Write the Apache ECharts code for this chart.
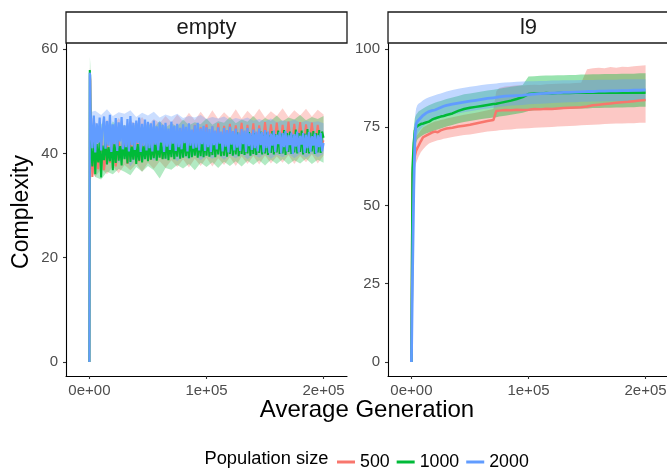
<!DOCTYPE html>
<html><head><meta charset="utf-8">
<script src="https://cdn.jsdelivr.net/npm/echarts@6/dist/echarts.min.js"></script>
<style>html,body{margin:0;padding:0;background:#fff}#c{width:667px;height:468px}</style>
</head><body><div id="c"></div>
<script>
// ---------- data ----------
const panels = ['empty', 'l9'];
const popSizes = ['500', '1000', '2000'];
const xTickValues = [0, 100000, 200000];
const xTickLabels = ['0e+00', '1e+05', '2e+05'];
const yTicksEmpty = [0, 20, 40, 60];
const yTicksL9 = [0, 25, 50, 75, 100];

// panel "empty": red line (coarser sampling)
const xEmptyRed = [0,400,800,1200,1600,2000,2500,5000,7500,10000,12500,15000,17500,20000,22500,25000,27500,30000,32500,35000,37500,40000,42500,45000,47500,50000,52500,55000,57500,60000,62500,65000,67500,70000,72500,75000,77500,80000,82500,85000,87500,90000,92500,95000,97500,100000,102500,105000,107500,110000,112500,115000,117500,120000,122500,125000,127500,130000,132500,135000,137500,140000,142500,145000,147500,150000,152500,155000,157500,160000,162500,165000,167500,170000,172500,175000,177500,180000,182500,185000,187500,190000,192500,195000,197500,200000];
const emptyRed = [0,55,54,44,37,40,
 35.5,42,37,43.5,36.8,41.8,38.2,43,37.5,42.4,38.8,43.6,38,42.8,39,44,38.5,43.2,39.2,44.4,38.8,43.5,39.5,44.8,39,44.2,39.6,
 45,39.8,44.5,40.2,45.3,39.9,44.8,40.4,45.5,40.1,45,40.6,45.6,40.3,45.2,40.8,45.8,40.5,45.3,40.9,45.7,40.6,45.4,41,45.9,40.7,45.5,
 41,45.8,40.8,45.4,41.2,46,40.9,45.6,41.3,45.9,41,45.5,41.4,46.1,41.1,45.7,41.5,46,41.2,45.6,41.4,45.9,41.1,45.5,41.3,42.5];

// panel "empty": green and blue lines (finer sampling)
const xEmptyFine = [0,300,600,900,
 1250,2500,3750,5000,6250,7500,8750,10000,11250,12500,13750,15000,16250,17500,18750,20000,21250,22500,23750,25000,26250,27500,28750,30000,31250,32500,33750,35000,36250,37500,38750,40000,41250,42500,43750,45000,46250,47500,48750,50000,
 51250,52500,53750,55000,56250,57500,58750,60000,61250,62500,63750,65000,66250,67500,68750,70000,71250,72500,73750,75000,76250,77500,78750,80000,81250,82500,83750,85000,86250,87500,88750,90000,91250,92500,93750,95000,96250,97500,98750,100000,
 101250,102500,103750,105000,106250,107500,108750,110000,111250,112500,113750,115000,116250,117500,118750,120000,121250,122500,123750,125000,126250,127500,128750,130000,131250,132500,133750,135000,136250,137500,138750,140000,141250,142500,143750,145000,146250,147500,148750,150000,
 151250,152500,153750,155000,156250,157500,158750,160000,161250,162500,163750,165000,166250,167500,168750,170000,171250,172500,173750,175000,176250,177500,178750,180000,181250,182500,183750,185000,186250,187500,188750,190000,191250,192500,193750,195000,196250,197500,198750,200000];
const emptyGreen = [0,56,55,47,
 41,37.5,42.6,36,41.8,38.3,42.2,35.4,41.5,38.7,42.8,37.9,41.2,38.5,42.4,36.8,41.9,38.2,43,38.6,41.4,37.7,42.5,38.9,41.7,38.1,42.9,38.4,41.3,38.8,42.3,38,41.8,38.6,42.7,38.3,41.6,38.9,42.1,38.5,
 42.4,38.8,41.7,39.1,42.9,38.6,42,39.2,42.6,38.9,41.8,39,43.1,38.7,42.3,39.3,42.8,38.9,42.1,39.4,43.2,39,42.5,39.2,42.9,39.5,42.2,39.1,43.3,39.3,42.6,39.6,43,39.2,42.4,39.5,43.4,39.3,42.8,39.6,
 43.2,39.4,42.7,39.7,43.5,39.3,42.9,39.8,43.6,39.5,43,39.6,43.8,39.4,43.2,39.9,43.7,39.6,43.1,39.8,44,39.5,43.4,39.9,43.8,39.7,43.3,40,44.1,39.6,43.5,39.9,43.9,39.7,43.4,40.1,44.2,39.8,43.6,40,
 44,39.7,43.5,40.1,44.3,39.8,43.7,40.2,44.4,39.9,43.8,40,44.5,39.7,43.9,40.3,44.2,39.9,43.6,40.2,44.6,40,43.9,40.3,44.4,39.8,43.8,40.1,44.7,40,44,40.4,44.3,39.9,43.9,40.2,44.5,40.1,44.2,43];
const emptyBlue = [0,55.5,55,48,
 46.5,41,47.3,40.2,45.8,42,46.9,40.6,44.8,47.1,40.9,46.2,41.5,47.4,40.3,45.6,41.8,46.8,40.5,46,42.3,47,40.8,45.4,41.2,46.6,40.4,47.2,41.6,45.9,40.7,46.3,42,46.9,40.3,45.7,41.4,46.5,40.6,46.1,
 41,45.8,40.4,46.3,41.7,45.2,40.6,46,42.1,45.5,40.3,45.9,41.3,44.8,40.7,46.1,41.9,45.3,40.5,45.7,41.2,44.9,40.8,45.6,42,45.1,40.4,45.8,41.5,44.6,40.9,45.4,41.1,45.9,40.6,44.8,41.8,45.3,40.5,45,
 41.2,44.7,40.3,45.2,41.6,44.4,40.8,45,41.9,44.2,40.4,44.9,41.3,44.5,40.2,45.1,41.7,44.3,40.6,44.8,41.1,44,40.5,44.7,41.8,44.4,40.3,44.9,41.4,43.9,40.7,44.6,41,44.2,40.4,44.8,41.6,44.1,40.2,44.5,
 41,44.2,40.1,43.8,41.5,44.4,40.3,43.6,41.8,44.1,40,43.9,41.2,44.3,40.4,43.5,41.6,44,39.9,43.7,41.3,44.2,40.2,43.4,41.7,43.9,40.1,43.6,41,44.1,40.3,43.3,41.5,43.8,40,43.5,41.2,43.9,40.4,42];

// panel "empty": ribbons
const xEmptyRib = [0,400,800,1200,1600,2000,5000,10000,15000,20000,25000,30000,35000,40000,45000,50000,55000,60000,65000,70000,75000,80000,85000,90000,95000,100000,105000,110000,115000,120000,125000,130000,135000,140000,145000,150000,155000,160000,165000,170000,175000,180000,185000,190000,195000,200000];
const emptyRedLo = [0,54,52,40,35,36.5, 35.5,37,36,37.5,36.2,37.8,36.8,38,36.5,38.2,37,38.5,37.2,38.7,37.4,38.9,37.3,39,37.6,39.2,37.5,39.1,37.8,39.3,37.6,39.4,38,39.5,37.9,39.6,38.1,39.4,38.2,39.7,38,39.5,38.3,39.8,38.1,39.6];
const emptyRedHi = [0,56.5,56,52,46,47, 46,44.8,46.5,45.2,46.8,45,46.3,45.6,47,45.4,46.6,45.8,47.2,46,47.5,46.2,47.8,46.4,48,46.5,48.3,46.6,47.9,46.8,48.5,46.7,48.2,47,48.6,46.9,48.1,47.2,48.7,47,48.3,47.3,48.6,47.1,48.4,47.5];
const emptyGreenLo = [0,53,51,40,35,37, 35.5,35,36.5,36,37,36.5,35.8,37.4,36.5,37.6,36.8,35.2,37.2,36.9,37.8,37.1,38,36.8,38.2,37.4,38.3,37.2,38.4,37.6,38.5,37.5,38.6,37.8,38.7,37.7,38.8,38,38.9,37.9,38.7,38.1,39,38,38.8,38.2];
const emptyGreenHi = [0,58.5,57,50,43,45, 44.5,45.8,44,46.2,44.8,45.5,44.2,46,44.6,45.7,44.9,46.3,45,45.8,45.2,46.5,45.4,46,45.6,46.7,45.5,46.2,45.9,47,45.8,46.5,46.1,47.2,46,46.8,46.3,47.3,46.2,46.9,46.5,47.4,46.4,47,46.6,47.2];
const emptyBlueLo = [0,54,53,42,36,38, 37.5,38.8,37.8,39,38.2,39.3,37.5,39.2,38.4,39.5,38.6,39.4,38.8,39.6,38.5,39.5,38.9,39.7,38.7,39.6,39,39.8,38.8,39.7,39.1,39.9,38.9,39.8,39.2,39.9,39,39.8,39.3,40,39.1,39.9,39.2,40,39.3,39.9];
const emptyBlueHi = [0,56,55.5,51,46,48, 48.2,47.4,48.5,47.2,47.9,47.6,48.3,47,47.8,47.3,48,46.9,47.5,47.1,47.6,46.8,47.2,46.9,47.4,46.6,47,46.7,47.1,46.4,46.8,46.5,46.9,46.3,46.6,46.2,46.7,46,46.4,46.1,46.5,45.9,46.3,46,46.2,45.8];

// panel "l9"
const xL9 = [0,1000,2000,3000,4000,5000,6000,8000,10000,12500,15000,17500,20000,22500,25000,27500,30000,35000,40000,45000,50000,55000,60000,65000,70000,72500,75000,80000,85000,90000,95000,100000,105000,110000,115000,120000,125000,130000,135000,140000,145000,150000,155000,160000,165000,170000,175000,180000,185000,190000,195000,200000];
const l9Red = [0,60,64,66,67.5,68.3,69,70.5,71.8,72.3,72.8,73.3,73.6,73.4,74,74.3,74.6,74.8,75.2,75.5,75.8,76.2,76.6,77,77.3,80.2,80.3,80.5,80.4,80.6,80.5,80.6,80.8,80.7,80.9,80.8,81,81.1,81.2,81.3,81.4,81.6,82,82.2,82.4,82.6,82.8,83,83.1,83.3,83.5,83.7];
const l9Green = [0,62,70,74,75,75.2,75.6,76,76.2,76.5,76.8,77.4,77.8,78.1,78.4,78.6,78.9,79.4,80.2,80.8,81.2,81.5,81.8,82.1,82.4,82.5,82.7,83.1,83.5,84,84.6,85.6,85.8,85.7,85.9,85.8,85.9,86,85.9,86,86.1,86,86.1,86,86.1,86,86.1,86,86.1,86,86.1,86];
const l9Blue = [0,30,55,72,76,76.8,77.3,78,78.8,79.5,80,80.3,80.5,80.9,81.3,81.7,82,82.4,82.7,83,83.3,83.6,83.9,84.2,84.4,84.5,84.7,84.9,85,85.1,85.2,85.4,85.6,85.7,85.8,85.9,86,86.1,86.1,86.2,86.3,86.4,86.4,86.5,86.5,86.6,86.6,86.7,86.7,86.8,86.8,86.9];
const l9RedLo = [0,50,58,62,63.5,64.5,65.5,67,68,69,69.8,70.2,70.5,70.8,71,71.3,71.5,71.9,72.2,72.5,72.7,73,73.3,73.6,73.8,73.9,74,74.2,74.3,74.5,74.6,74.7,74.8,74.9,75,75.1,75.2,75.3,75.4,75.5,75.6,75.7,75.8,75.9,76,76.1,76.2,76.2,76.3,76.3,76.4,76.4];
const l9RedHi = [0,66,70,71,72,72.5,73,74,75,75.5,76,76.4,76.8,77,77.3,77.5,77.8,78.2,78.6,79,79.3,79.6,80,80.4,80.8,86.5,87.5,88,88.2,88.4,88.3,88.5,88.6,88.5,88.7,88.8,88.9,89,89,89.1,89.2,93.5,93.8,94,93.8,94.2,94,94.3,94.2,94.5,94.6,94.8];
const l9GreenLo = [0,55,64,68,70,71,71.5,72,72.5,73,73.3,73.6,74,74.3,74.6,74.9,75.2,75.7,76.3,76.7,77,77.3,77.6,77.9,78.1,78.2,78.4,78.7,79,79.3,79.6,80.2,80.4,80.5,80.6,80.6,80.7,80.8,80.8,80.9,81,81,81.1,81.1,81.2,81.2,81.3,81.3,81.4,81.4,81.5,81.5];
const l9GreenHi = [0,68,75,78,79,79.5,80,80.5,81,81.5,82,82.4,82.8,83.1,83.4,83.7,84,84.5,85,85.5,85.8,86.1,86.4,86.7,87,87.1,87.3,87.6,87.9,88.2,88.5,91.2,91.3,91.4,91.5,91.5,91.6,91.6,91.7,91.7,91.8,91.8,91.9,91.9,92,92,92,92.1,92.1,92.1,92.2,92.2];
const l9BlueLo = [0,20,45,66,71,72.5,73.5,74.5,75.3,76,76.5,77,77.3,77.7,78,78.3,78.6,79,79.4,79.8,80.1,80.4,80.7,81,81.2,81.3,81.5,81.7,81.9,82,82.1,82.3,82.4,82.5,82.6,82.7,82.8,82.9,83,83,83.1,83.1,83.2,83.2,83.3,83.3,83.4,83.4,83.4,83.5,83.5,83.5];
const l9BlueHi = [0,40,65,78,81,82,82.5,83,83.6,84.2,84.6,84.9,85.2,85.5,85.8,86.1,86.4,86.9,87.3,87.6,87.9,88.2,88.5,88.7,88.9,89,89.1,89.3,89.4,89.5,89.6,89.7,89.7,89.8,89.8,89.9,89.9,90,90,90,90.1,90.1,90.1,90.2,90.2,90.2,90.2,90.3,90.3,90.3,90.3,90.3];

// ---------- styling ----------
const COLORS = ['#F8766D', '#00BA38', '#619CFF'];
const FILLS = ['rgba(248,118,109,0.4)', 'rgba(0,186,56,0.4)', 'rgba(97,156,255,0.4)'];
const FILLS_EMPTY = ['rgba(248,118,109,0.33)', 'rgba(0,186,56,0.3)', 'rgba(97,156,255,0.33)'];
const FONT = "'Liberation Sans', Arial, Helvetica, sans-serif";

function pairs(xs, ys) { return xs.map((x, i) => [x, ys[i]]); }
function ribbon(id, xs, lo, hi, fill, gi) {
  return {
    type: 'custom', name: id, xAxisIndex: gi, yAxisIndex: gi, silent: true, z: 1,
    data: xs.map((x, i) => [x, lo[i], hi[i]]),
    encode: { x: 0, y: [1, 2] },
    renderItem: function (params, api) {
      if (params.dataIndexInside !== 0) return null;
      const n = params.dataInsideLength;
      const top = [], bot = [];
      for (let j = 0; j < n; j++) {
        const x = api.value(0, j);
        top.push(api.coord([x, api.value(2, j)]));
        bot.push(api.coord([x, api.value(1, j)]));
      }
      return { type: 'polygon', shape: { points: top.concat(bot.reverse()) }, style: { fill: fill } };
    }
  };
}
function line(name, xs, ys, color, gi, w) {
  return { type: 'line', name: name, xAxisIndex: gi, yAxisIndex: gi, data: pairs(xs, ys), symbol: 'none',
    color: color, itemStyle: { color: color }, lineStyle: { color: color, width: w }, z: 2, silent: true };
}

const series = [
  ribbon('eR', xEmptyRib, emptyRedLo, emptyRedHi, FILLS_EMPTY[0], 0),
  ribbon('eG', xEmptyRib, emptyGreenLo, emptyGreenHi, FILLS_EMPTY[1], 0),
  ribbon('eB', xEmptyRib, emptyBlueLo, emptyBlueHi, FILLS_EMPTY[2], 0),
  ribbon('lR', xL9, l9RedLo, l9RedHi, FILLS[0], 1),
  ribbon('lG', xL9, l9GreenLo, l9GreenHi, FILLS[1], 1),
  ribbon('lB', xL9, l9BlueLo, l9BlueHi, FILLS[2], 1),
  line(popSizes[0], xEmptyRed, emptyRed, COLORS[0], 0, 2),
  line(popSizes[1], xEmptyFine, emptyGreen, COLORS[1], 0, 2),
  line(popSizes[2], xEmptyFine, emptyBlue, COLORS[2], 0, 2.2),
  line(popSizes[0], xL9, l9Red, COLORS[0], 1, 2.5),
  line(popSizes[1], xL9, l9Green, COLORS[1], 1, 2.5),
  line(popSizes[2], xL9, l9Blue, COLORS[2], 1, 2.8)
];

function xAxis(gi) {
  return {
    type: 'value', gridIndex: gi, min: -20000, max: 220000,
    axisLine: { show: true, onZero: false, lineStyle: { color: '#000', width: 1.1 } },
    axisTick: { show: true, length: 3, customValues: xTickValues, lineStyle: { color: '#333', width: 1.1 } },
    axisLabel: { customValues: xTickValues, color: '#4d4d4d', fontSize: 15, margin: 7, fontFamily: FONT,
      formatter: v => xTickLabels[xTickValues.indexOf(v)] },
    splitLine: { show: false }
  };
}
function yAxis(gi, min, max, ticks) {
  return {
    type: 'value', gridIndex: gi, min: min, max: max,
    axisLine: { show: true, onZero: false, lineStyle: { color: '#000', width: 1.1 } },
    axisTick: { show: true, length: 3, customValues: ticks, lineStyle: { color: '#333', width: 1.1 } },
    axisLabel: { customValues: ticks, color: '#4d4d4d', fontSize: 15, margin: 8, fontFamily: FONT },
    splitLine: { show: false }
  };
}

const chart = echarts.init(document.getElementById('c'), null, { renderer: 'canvas' });
chart.setOption({
  animation: false,
  backgroundColor: '#fff',
  textStyle: { fontFamily: FONT },
  grid: [
    { left: 66, top: 43, width: 281, height: 333, containLabel: false, outerBoundsMode: 'none' },
    { left: 388, top: 43, width: 281, height: 333, containLabel: false, outerBoundsMode: 'none' }
  ],
  xAxis: [xAxis(0), xAxis(1)],
  yAxis: [yAxis(0, -2.7, 61.2, yTicksEmpty), yAxis(1, -4.47, 101.9, yTicksL9)],
  legend: {
    data: popSizes.map(n => ({ name: n, icon: 'rect' })),
    left: 332, top: 448, itemWidth: 18, itemHeight: 3, itemGap: 7,
    selectedMode: false,
    textStyle: { fontSize: 17.8, color: '#000', fontFamily: FONT }
  },
  graphic: [
    { type: 'rect', shape: { x: 66, y: 12, width: 281, height: 31 }, style: { fill: '#fff', stroke: '#1a1a1a', lineWidth: 1.3 }, z: 10 },
    { type: 'rect', shape: { x: 388, y: 12, width: 290, height: 31 }, style: { fill: '#fff', stroke: '#1a1a1a', lineWidth: 1.3 }, z: 10 },
    { type: 'text', x: 206.5, y: 28, z: 11, style: { text: panels[0], fontSize: 22, fontFamily: FONT, fill: '#1a1a1a', align: 'center', verticalAlign: 'middle', textAlign: 'center', textVerticalAlign: 'middle' } },
    { type: 'text', x: 528.5, y: 28, z: 11, style: { text: panels[1], fontSize: 22, fontFamily: FONT, fill: '#1a1a1a', align: 'center', verticalAlign: 'middle', textAlign: 'center', textVerticalAlign: 'middle' } },
    { type: 'text', x: 367, y: 410, z: 11, style: { text: 'Average Generation', fontSize: 24, fontFamily: FONT, fill: '#000', align: 'center', verticalAlign: 'middle', textAlign: 'center', textVerticalAlign: 'middle' } },
    { type: 'text', x: 22, y: 212, rotation: Math.PI / 2, z: 11, style: { text: 'Complexity', fontSize: 23, fontFamily: FONT, fill: '#000', align: 'center', verticalAlign: 'middle', textAlign: 'center', textVerticalAlign: 'middle' } },
    { type: 'text', x: 204.5, y: 459, z: 11, style: { text: 'Population size', fontSize: 18.3, fontFamily: FONT, fill: '#000', align: 'left', verticalAlign: 'middle', textAlign: 'left', textVerticalAlign: 'middle' } }
  ],
  series: series
});
</script>
</body></html>
